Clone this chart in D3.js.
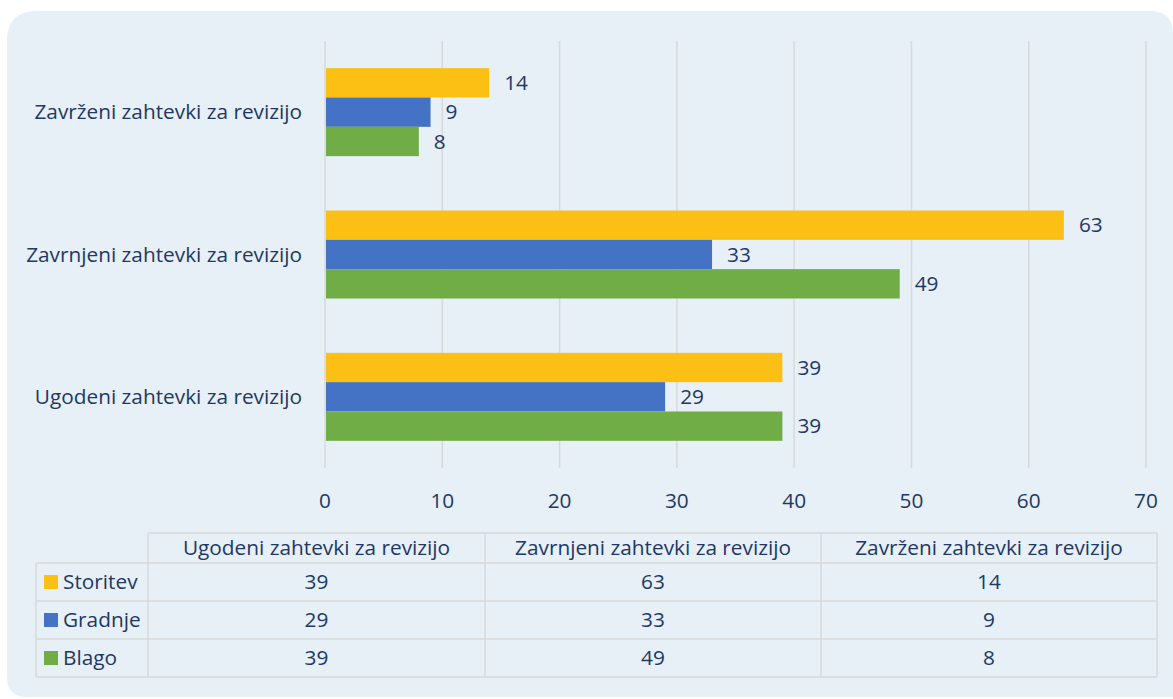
<!DOCTYPE html>
<html>
<head>
<meta charset="utf-8">
<script src="https://cdn.jsdelivr.net/npm/d3@7"></script>
<style>
  body { margin: 0; background: #fff; }
  svg { display: block; font-family: "Open Sans", Lato, sans-serif; }
</style>
</head>
<body>
<svg id="chart" width="1173" height="699"></svg>
<script>
// categories as in the data table (left to right)
var categories = ["Ugodeni zahtevki za revizijo", "Zavrnjeni zahtevki za revizijo", "Zavrženi zahtevki za revizijo"];
var seriesNames = ["Storitev", "Gradnje", "Blago"];
var storitev = [39, 63, 14];
var gradnje = [29, 33, 9];
var blago = [39, 49, 8];
var xTicks = [0, 10, 20, 30, 40, 50, 60, 70];

var colors = ["#fcbf14", "#4472c4", "#70ad47"];
var textColor = "#1f3864";
var gridColor = "#d9d9d9";
var fs = 20.8;

var series = [storitev, gradnje, blago];
var rows = seriesNames.map(function(n, i){ return {name: n, values: series[i], color: colors[i]}; });

var svg = d3.select("#chart");

// panel
svg.append("path")
    .attr("d", "M7,41 Q7,11 37,11 L1150,11 Q1173,11 1173,34 L1173,697 L27,697 Q7,697 7,677 Z")
    .attr("fill", "#e7eff7");

var x = d3.scaleLinear().domain([0, 70]).range([325, 1146]);
// chart shows categories reversed (last one on top)
var y0 = d3.scaleBand().domain(categories.slice().reverse()).range([41, 468]);
var groupH = 88;
var y1 = d3.scaleBand().domain(seriesNames).range([0, groupH]);

// grid + ticks
svg.append("g").selectAll("line")
    .data(xTicks)
    .enter()
    .append("line")
    .attr("x1", function(d){ return x(d); })
    .attr("x2", function(d){ return x(d); })
    .attr("y1", 41)
    .attr("y2", 468)
    .attr("stroke", gridColor)
    .attr("stroke-width", 1.5);

svg.append("g").selectAll("text")
    .data(xTicks)
    .enter()
    .append("text")
    .attr("x", function(d){ return x(d); })
    .attr("y", 508)
    .attr("text-anchor", "middle")
    .attr("font-size", fs)
    .attr("fill", textColor)
    .text(function(d){ return d; });

// category labels
svg.append("g").selectAll("text")
    .data(categories)
    .enter()
    .append("text")
    .attr("x", 302)
    .attr("y", function(d){ return y0(d) + y0.bandwidth() / 2; })
    .attr("dy", "0.35em")
    .attr("text-anchor", "end")
    .attr("font-size", fs)
    .attr("fill", textColor)
    .text(function(d){ return d; });

// bars
var groups = svg.append("g").selectAll(".grp")
    .data(categories)
    .enter()
    .append("g")
    .attr("class", "grp")
    .attr("transform", function(d){ return "translate(0," + (y0(d) + (y0.bandwidth() - groupH) / 2) + ")"; });

groups.each(function(cat, ci){
    var g = d3.select(this);
    var d = rows.map(function(r){ return {name: r.name, v: r.values[ci], color: r.color}; });
    g.selectAll("rect")
        .data(d)
        .enter()
        .append("rect")
        .attr("x", x(0) + 1)
        .attr("y", function(b){ return y1(b.name); })
        .attr("width", function(b){ return x(b.v) - x(0) - 1; })
        .attr("height", y1.bandwidth())
        .attr("fill", function(b){ return b.color; });
    g.selectAll("text")
        .data(d)
        .enter()
        .append("text")
        .attr("x", function(b){ return x(b.v) + 15; })
        .attr("y", function(b){ return y1(b.name) + y1.bandwidth() / 2; })
        .attr("dy", "0.35em")
        .attr("font-size", fs)
        .attr("fill", textColor)
        .text(function(b){ return b.v; });
});

// data table
var colX = [148, 485, 821, 1157];
var legendX = 36;
var rowY = [533, 563, 601, 639, 677];
var table = svg.append("g");
var line = function(x1, y1_, x2, y2){
    table.append("line").attr("x1", x1).attr("y1", y1_).attr("x2", x2).attr("y2", y2)
        .attr("stroke", gridColor).attr("stroke-width", 1.5);
};
line(colX[0], rowY[0], colX[3], rowY[0]);
for (var i = 1; i < rowY.length; i++) line(legendX, rowY[i], colX[3], rowY[i]);
colX.forEach(function(cx){ line(cx, rowY[0], cx, rowY[4]); });
line(legendX, rowY[1], legendX, rowY[4]);

table.selectAll(".hdr")
    .data(categories)
    .enter()
    .append("text")
    .attr("class", "hdr")
    .attr("x", function(d, i){ return (colX[i] + colX[i + 1]) / 2; })
    .attr("y", (rowY[0] + rowY[1]) / 2)
    .attr("dy", "0.35em")
    .attr("text-anchor", "middle")
    .attr("font-size", fs)
    .attr("fill", textColor)
    .text(function(d){ return d; });

var trow = table.selectAll(".trow")
    .data(rows)
    .enter()
    .append("g")
    .attr("class", "trow")
    .attr("transform", function(d, i){ return "translate(0," + ((rowY[i + 1] + rowY[i + 2]) / 2) + ")"; });

trow.append("rect")
    .attr("x", 44).attr("y", -7).attr("width", 14).attr("height", 14)
    .attr("fill", function(d){ return d.color; });
trow.append("text")
    .attr("x", 63).attr("dy", "0.35em")
    .attr("font-size", fs)
    .attr("fill", textColor)
    .text(function(d){ return d.name; });
trow.selectAll(".val")
    .data(function(d){ return d.values; })
    .enter()
    .append("text")
    .attr("class", "val")
    .attr("x", function(v, i){ return (colX[i] + colX[i + 1]) / 2; })
    .attr("dy", "0.35em")
    .attr("text-anchor", "middle")
    .attr("font-size", fs)
    .attr("fill", textColor)
    .text(function(v){ return v; });
</script>
</body>
</html>
